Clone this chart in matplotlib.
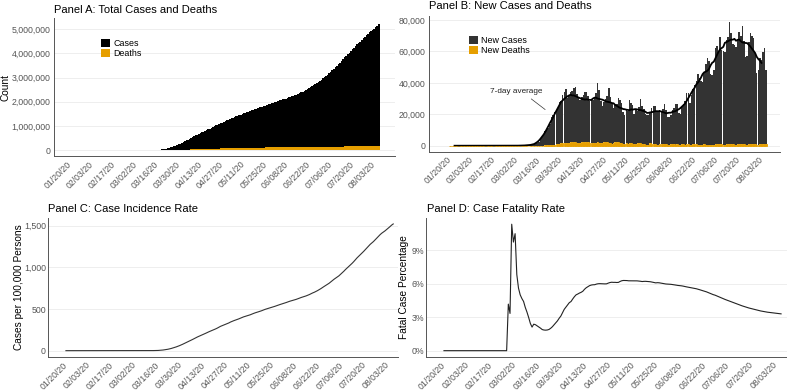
import numpy as np
import pandas as pd
import matplotlib
matplotlib.use("Agg")
import matplotlib.pyplot as plt
import matplotlib.dates as mdates
from matplotlib.patches import Patch
from matplotlib.ticker import FuncFormatter, FixedLocator

plt.rcParams['font.family'] = ['Liberation Sans', 'DejaVu Sans']

# ---------------- data ----------------
start_date = "2020-01-22"
end_date = "2020-08-08"
population = 331_000_000

cases_jan = [1, 0, 1, 0, 3, 0, 0, 0, 1, 2]
cases_feb = [1, 0, 0, 0, 3, 0, 0, 0, 0, 1, 0, 0, 1, 0, 0, 0, 0, 0, 0, 0,
             2, 0, 0, 0, 0, 1, 0, 0, 7]
cases_mar = [6, 23, 19, 33, 71, 74, 90, 110, 140, 210, 300, 380, 570, 650, 800,
             1100, 1700, 2200, 4500, 5500, 6800, 9000, 10500, 11000, 13500,
             17500, 19000, 21000, 21500, 23000, 26500]
cases_apr = [27000, 30500, 32500, 34000, 28500, 30000, 32000, 32500, 34500, 35500,
             31000, 28500, 27000, 28500, 30000, 31500, 32000, 29500, 27000, 28000,
             27000, 29000, 31500, 38000, 33500, 27000, 24000, 25500, 27500, 29500]
cases_may = [35000, 29000, 25500, 22500, 24000, 24500, 28500, 27500, 25500, 20500,
             18500, 22000, 21000, 27500, 25500, 24500, 19000, 22500, 20500, 23000,
             28000, 24000, 22000, 19500, 19000, 19000, 20000, 22500, 24500, 24000,
             20500]
cases_jun = [20500, 21500, 20500, 22000, 25500, 22000, 18000, 17500, 19000, 22000,
             23000, 25500, 25500, 20000, 19500, 23500, 25500, 28000, 32500, 32500,
             26500, 31500, 35000, 38000, 40000, 45000, 42500, 40500, 40000, 45000]
cases_jul = [51000, 55000, 53000, 45500, 44500, 48000, 61000, 62500, 59500, 68000,
             60000, 59500, 59000, 66500, 68000, 77500, 71000, 64000, 63500, 62000,
             66500, 71500, 69000, 75000, 65500, 56000, 56500, 65000, 70500, 68500,
             67500]
cases_aug = [58000, 46000, 47500, 55000, 53500, 58500, 61000, 47500]

deaths_jan = [0] * 10
deaths_feb = [0] * 28 + [1]
deaths_mar = [0, 5, 1, 4, 1, 2, 3, 4, 5, 5, 7, 6, 6, 7, 26, 24, 33, 40, 82, 88,
              118, 162, 200, 230, 330, 470, 590, 720, 790, 1010, 1160]
deaths_apr = [1510, 1810, 1770, 1980, 1860, 1670, 2350, 2420, 2465, 2150,
              2050, 1850, 2000, 2625, 2550, 2450, 2500, 2100, 1770, 1700,
              2050, 2000, 1960, 2200, 2000, 1500, 1500, 2200, 2200, 2100]
deaths_may = [2000, 1800, 1400, 1500, 2530, 2300, 2100, 1700, 1500, 1000,
              1150, 1450, 1170, 1700, 1600, 1300, 900, 1000, 1500, 1500,
              1600, 1200, 1100, 650, 550, 700, 1500, 1200, 990, 1000, 700]
deaths_jun = [750, 1100, 1050, 1100, 1100, 940, 450, 500, 800, 900,
              850, 740, 800, 550, 500, 900, 850, 750, 1000, 820,
              400, 500, 850, 850, 1000, 750, 650, 400, 450, 1100]
deaths_jul = [750, 750, 700, 300, 300, 450, 1050, 1000, 950, 900,
              800, 500, 500, 1000, 1050, 1050, 1000, 950, 550, 500,
              1000, 1050, 1050, 1000, 950, 450, 500, 1000, 1250, 1150, 1200]
deaths_aug = [1100, 450, 500, 1100, 1100, 1050, 1050, 850]

tick_dates = ["01/20/20", "02/03/20", "02/17/20", "03/02/20", "03/16/20", "03/30/20",
              "04/13/20", "04/27/20", "05/11/20", "05/25/20", "06/08/20", "06/22/20",
              "07/06/20", "07/20/20", "08/03/20"]
yticks_A = [0, 1_000_000, 2_000_000, 3_000_000, 4_000_000, 5_000_000]
yticks_B = [0, 20_000, 40_000, 60_000, 80_000]
yticks_C = [0, 500, 1000, 1500]
yticks_D = [0, 3, 6, 9]

# ---------------- derived ----------------
new_cases = np.array(cases_jan + cases_feb + cases_mar + cases_apr + cases_may +
                     cases_jun + cases_jul + cases_aug, dtype=float)
new_deaths = np.array(deaths_jan + deaths_feb + deaths_mar + deaths_apr + deaths_may +
                      deaths_jun + deaths_jul + deaths_aug, dtype=float)
dates = pd.date_range(start_date, end_date, freq="D")
assert len(dates) == len(new_cases) == len(new_deaths)

cum_cases = np.cumsum(new_cases)
cum_deaths = np.cumsum(new_deaths)
incidence = cum_cases / population * 1e5
cfr = np.where(cum_cases > 0, cum_deaths / np.maximum(cum_cases, 1) * 100, 0)
avg7 = pd.Series(new_cases).rolling(7, center=True).mean().to_numpy()

x = mdates.date2num(dates.to_pydatetime())
x0, x1 = x[0], x[-1]
tick_x = mdates.date2num(pd.to_datetime(tick_dates, format="%m/%d/%y").to_pydatetime())

# ---------------- style ----------------
ORANGE = "#E69F00"
TICKC = "#555555"
W, H = 787, 390
fig = plt.figure(figsize=(W / 100, H / 100), dpi=100)


def add_ax(l, t, r, b):
    return fig.add_axes([l / W, 1 - b / H, (r - l) / W, (b - t) / H])


def style(ax, yticks, fmt, pad=2.5):
    for s in ["top", "right"]:
        ax.spines[s].set_visible(False)
    for s in ["left", "bottom"]:
        ax.spines[s].set_color("#555555")
        ax.spines[s].set_linewidth(0.7)
    ax.set_axisbelow(True)
    ax.yaxis.grid(True, color="#ebebeb", lw=0.6)
    ax.xaxis.grid(False)
    ax.set_yticks(yticks)
    ax.yaxis.set_major_formatter(FuncFormatter(fmt))
    ax.xaxis.set_major_locator(FixedLocator(tick_x))
    ax.xaxis.set_major_formatter(mdates.DateFormatter("%m/%d/%y"))
    ax.tick_params(length=0, labelsize=6.3, labelcolor=TICKC, pad=2.5)
    ax.tick_params(axis="y", pad=pad)
    for lbl in ax.get_xticklabels():
        lbl.set_rotation(45)
        lbl.set_ha("right")
        lbl.set_va("top")
        lbl.set_rotation_mode("anchor")


def ylim_exp(ax, vmax):
    ax.set_ylim(-0.05 * vmax, 1.05 * vmax)


comma = lambda v, p: f"{int(round(v)):,}"
pct = lambda v, p: f"{int(round(v))}%"

# Panel A
axA = add_ax(54, 18.2, 395, 156.3)
axA.bar(x, cum_deaths, width=1.0, color=ORANGE, linewidth=0)
axA.bar(x, cum_cases, width=1.0, bottom=cum_deaths, color="#000000", linewidth=0)
ylim_exp(axA, (cum_cases + cum_deaths).max())
axA.set_xlim(x0 - 0.45 - 10.0, x1 + 0.45 + 10.0)
style(axA, yticks_A, comma)
axA.set_ylabel("Count", fontsize=7.3, color="black")
axA.yaxis.set_label_coords(-0.128, 0.5)
axA.legend(handles=[Patch(fc="#000000", label="Cases"), Patch(fc=ORANGE, label="Deaths")],
           loc="upper left", bbox_to_anchor=(101 / W, 1 - 39 / H),
           bbox_transform=fig.transFigure, frameon=False, fontsize=6.4,
           handlelength=1.0, handleheight=1.0, handletextpad=0.4,
           labelspacing=0.1, borderpad=0, borderaxespad=0)

# Panel B
axB = add_ax(429, 16.1, 780, 151.9)
axB.bar(x, new_deaths, width=0.95, color=ORANGE, edgecolor=ORANGE, linewidth=0.6, zorder=4)
axB.bar(x, new_cases, width=0.95, bottom=new_deaths, color="#333333", linewidth=0, zorder=2)
axB.plot(x, avg7, color="black", lw=1.3, zorder=3)
ylim_exp(axB, (new_cases + new_deaths).max())
axB.set_xlim(x0 - 0.45 - 12.6, x1 + 0.45 + 8.2)
style(axB, yticks_B, comma)
axB.legend(handles=[Patch(fc="#333333", label="New Cases"), Patch(fc=ORANGE, label="New Deaths")],
           loc="upper left", bbox_to_anchor=(469 / W, 1 - 36 / H),
           bbox_transform=fig.transFigure, frameon=False, fontsize=6.4,
           handlelength=1.0, handleheight=1.0, handletextpad=0.4,
           labelspacing=0.1, borderpad=0, borderaxespad=0)
axB.annotate("7-day average",
             xy=(mdates.date2num(pd.Timestamp("2020-03-22").to_pydatetime()), 23000),
             xytext=(mdates.date2num(pd.Timestamp("2020-03-04").to_pydatetime()), 34600),
             ha="center", va="center", fontsize=5.9, color="#222222",
             arrowprops=dict(arrowstyle="-", color="#333333", lw=0.5,
                             shrinkA=1.5, shrinkB=0, relpos=(0.68, 0.0)),
             zorder=5)

# Panel C
axC = add_ax(48, 217.6, 398, 357.0)
axC.plot(x, incidence, color="#333333", lw=0.8)
ylim_exp(axC, incidence.max())
axC.set_xlim(x0 - 10.9, x1 + 2.9)
style(axC, yticks_C, comma, pad=1.5)
axC.set_ylabel("Cases per 100,000 Persons", fontsize=7.3, color="black")
axC.yaxis.set_label_coords(-0.0686, 0.5)

# Panel D
axD = add_ax(426, 217.9, 787, 357.0)
axD.plot(x, cfr, color="#222222", lw=0.8)
ylim_exp(axD, cfr.max())
axD.set_xlim(x0 - 10.6, x1 + 3.5)
style(axD, yticks_D, pct, pad=1.5)
axD.set_ylabel("Fatal Case Percentage", fontsize=7.3, color="black")
axD.yaxis.set_label_coords(-0.046, 0.5)

# Titles
fig.text(54 / W, 1 - 10 / H, "Panel A: Total Cases and Deaths", fontsize=8, va="center", ha="left")
fig.text(429 / W, 1 - 6 / H, "Panel B: New Cases and Deaths", fontsize=8, va="center", ha="left")
fig.text(48 / W, 1 - 209.5 / H, "Panel C: Case Incidence Rate", fontsize=8, va="center", ha="left")
fig.text(427 / W, 1 - 209.5 / H, "Panel D: Case Fatality Rate", fontsize=8, va="center", ha="left")

fig.savefig("out.png", dpi=100)
